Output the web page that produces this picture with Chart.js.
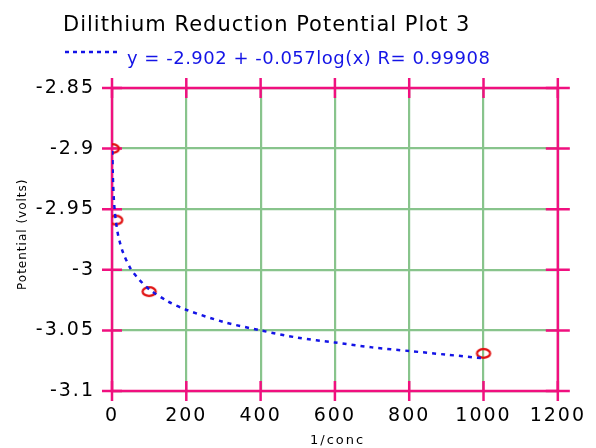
<!DOCTYPE html>
<html>
<head>
<meta charset="utf-8">
<script src="https://cdn.jsdelivr.net/npm/chart.js@4/dist/chart.umd.min.js"></script>
<style>
html,body{margin:0;padding:0;background:#fff;}
#wrap{width:596px;height:448px;}
</style>
</head>
<body>
<div id="wrap"><canvas id="c" width="596" height="448"></canvas></div>
<script>
const titleText = 'Dilithium Reduction Potential Plot 3';
const legendText = 'y = -2.902 + -0.057log(x) R= 0.99908';
const xTitle = '1/conc';
const yTitle = 'Potential (volts)';

// measured points
const pointX = [1, 10, 100, 1000];
const pointY = [-2.900, -2.959, -3.018, -3.069];

// fit curve
const fitX = [1, 2, 3, 5, 7, 10, 15, 20, 30, 50, 70, 100, 150, 200, 300, 400, 500, 600, 700, 800, 900, 1000];
const fitY = [-2.902, -2.919, -2.929, -2.942, -2.950, -2.959, -2.969, -2.976, -2.986, -2.999, -3.007, -3.016, -3.026, -3.033, -3.043, -3.050, -3.056, -3.060, -3.064, -3.067, -3.070, -3.073];

const xTickLabels = ['0', '200', '400', '600', '800', '1000', '1200'];
const yTickLabels = ['-3.1', '-3.05', '-3', '-2.95', '-2.9', '-2.85'];

const PINK = '#f0107f';
const GREEN = '#88c48c';
const BLUE = '#1414e6';
const RED = '#e01010';
const FONT = '"DejaVu Sans", sans-serif';

// ellipse marker
const marker = document.createElement('canvas');
marker.width = 18; marker.height = 13;
(function(){
  const m = marker.getContext('2d');
  m.strokeStyle = RED; m.lineWidth = 2.2;
  m.beginPath(); m.ellipse(9, 6.5, 6.6, 4.3, 0, 0, Math.PI * 2); m.stroke();
})();

const framePlugin = {
  id: 'frame',
  beforeDraw(chart) {
    chart.ctx.letterSpacing = '2px';
  },
  beforeDatasetsDraw(chart) {
    const ctx = chart.ctx, a = chart.chartArea;
    const xs = chart.scales.x, ys = chart.scales.y;
    ctx.save();
    ctx.strokeStyle = PINK; ctx.lineWidth = 2.5;
    ctx.strokeRect(a.left, a.top, a.right - a.left, a.bottom - a.top);
    ctx.beginPath();
    xs.ticks.forEach(t => {
      const px = xs.getPixelForValue(t.value);
      ctx.moveTo(px, a.bottom - 10); ctx.lineTo(px, a.bottom + 10);
      ctx.moveTo(px, a.top - 10); ctx.lineTo(px, a.top + 10);
    });
    ys.ticks.forEach(t => {
      const py = ys.getPixelForValue(t.value);
      ctx.moveTo(a.left - 10, py); ctx.lineTo(a.left + 10, py);
      ctx.moveTo(a.right - 12, py); ctx.lineTo(a.right + 12, py);
    });
    ctx.stroke();
    ctx.restore();
  },
  afterDraw(chart) {
    const ctx = chart.ctx, a = chart.chartArea;
    ctx.save();
    ctx.fillStyle = '#000';
    ctx.letterSpacing = '1px';
    ctx.font = '21px ' + FONT;
    ctx.textAlign = 'left'; ctx.textBaseline = 'alphabetic';
    ctx.fillText(titleText, 63, 31);
    // legend
    ctx.strokeStyle = BLUE; ctx.lineWidth = 2.5; ctx.setLineDash([4, 4]);
    ctx.beginPath(); ctx.moveTo(65, 52); ctx.lineTo(118, 52); ctx.stroke();
    ctx.setLineDash([]);
    ctx.letterSpacing = '0.5px';
    ctx.fillStyle = BLUE; ctx.font = '18px ' + FONT; ctx.textAlign = 'left';
    ctx.fillText(legendText, 127, 64);
    // axis titles
    ctx.fillStyle = '#000';
    ctx.letterSpacing = '2px';
    ctx.font = '13px ' + FONT; ctx.textAlign = 'left';
    ctx.fillText(xTitle, 310, 444);
    ctx.letterSpacing = '1px';
    ctx.font = '12px ' + FONT;
    ctx.translate(26, 290);
    ctx.rotate(-Math.PI / 2);
    ctx.fillText(yTitle, 0, 0);
    ctx.restore();
  }
};

new Chart(document.getElementById('c'), {
  type: 'scatter',
  data: {
    datasets: [
      {
        label: 'fit',
        data: fitX.map((x, i) => ({x: x, y: fitY[i]})),
        showLine: true,
        borderColor: BLUE,
        borderWidth: 2.5,
        borderDash: [4, 5],
        pointRadius: 0,
        tension: 0.3,
        fill: false
      },
      {
        label: 'data',
        data: pointX.map((x, i) => ({x: x, y: pointY[i]})),
        pointStyle: marker,
        pointRadius: 7,
        showLine: false
      }
    ]
  },
  options: {
    responsive: false,
    animation: false,
    layout: {padding: {top: 88, right: 36, left: 0, bottom: 0}},
    plugins: {legend: {display: false}, title: {display: false}, tooltip: {enabled: false}},
    scales: {
      x: {
        type: 'linear', min: 0, max: 1200,
        ticks: {stepSize: 200, color: '#000', font: {family: FONT, size: 19}, padding: 14,
          callback: (v, i) => xTickLabels[i]},
        grid: {color: GREEN, lineWidth: 2.2, drawTicks: false},
        border: {display: false},
        afterFit: s => { s.height = 57; }
      },
      y: {
        type: 'linear', min: -3.1, max: -2.85,
        ticks: {stepSize: 0.05, color: '#000', font: {family: FONT, size: 19}, padding: 17,
          callback: (v, i) => yTickLabels[i]},
        grid: {color: GREEN, lineWidth: 2.2, drawTicks: false},
        border: {display: false},
        afterFit: s => { s.width = 112; }
      }
    }
  },
  plugins: [framePlugin]
});
</script>
</body>
</html>
